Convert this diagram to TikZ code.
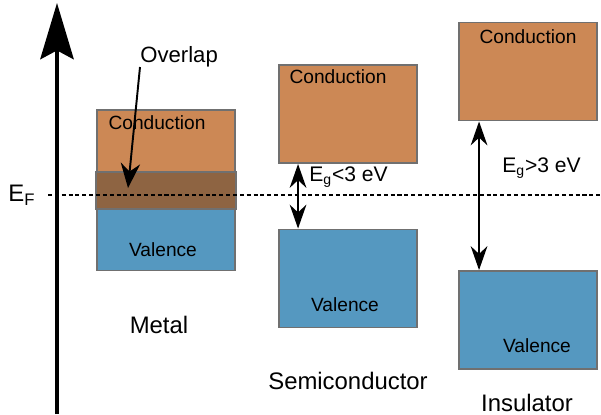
\documentclass[tikz,border=0pt]{standalone}
\usepackage{fontspec}
\setmainfont{Liberation Sans}
\usetikzlibrary{arrows.meta}
\definecolor{condc}{HTML}{CC8855}
\definecolor{valc}{HTML}{5598C0}
\definecolor{ovlc}{HTML}{8E6442}
\definecolor{edgec}{HTML}{707070}
\begin{document}
\begin{tikzpicture}[x=0.02cm, y=-0.02cm,
  band/.style={draw=edgec, line width=1.1pt, minimum width=2.76cm, minimum height=1.96cm, inner sep=0pt},
  boxtext/.style={font=\fontsize{10.9}{12}\selectfont, inner sep=0pt},
  bigtext/.style={font=\fontsize{13.6}{15}\selectfont, inner sep=0pt},
  gap/.style={line width=1.1pt, {Stealth[length=13.6pt,width=9.5pt]}-{Stealth[length=13.6pt,width=9.5pt]}}]
\useasboundingbox (0,0) rectangle (601,414);
% energy axis
\coordinate (axbot) at (57,414);
\coordinate (axtop) at (57,3);
\draw[line width=2pt, -{Stealth[length=32pt,width=19pt,inset=5pt]}] (axbot) -- (axtop);
% metal
\node[band, fill=condc](metC) at (166,159) {};
\node[band, fill=valc](metV) at (166,221.5) {};
\draw[draw=edgec, line width=1.1pt, fill=ovlc] (metV.north west) rectangle (metC.south east);
\node[boxtext](metCt) at (157,123) {Conduction};
\node[boxtext](metVt) at (163,250) {Valence};
\node[bigtext](metal) at (159,325) {Metal};
% semiconductor
\node[band, fill=condc](semC) at (348,114) {};
\node[band, fill=valc](semV) at (348,278.5) {};
\node[boxtext](semCt) at (338,77) {Conduction};
\node[boxtext](semVt) at (345,305) {Valence};
\node[bigtext](semi) at (348,381) {Semiconductor};
\draw[gap] ([xshift=0.4cm]semC.south west) -- ([xshift=0.4cm]semV.north west);
\node[anchor=west, inner sep=0pt, font=\fontsize{12}{14}\selectfont](semEg) at (309,177) {E\textsubscript{g}<3 eV};
% insulator
\node[band, fill=condc](insC) at (528,71.5) {};
\node[band, fill=valc](insV) at (528,320) {};
\node[boxtext](insCt) at (528,37) {Conduction};
\node[boxtext](insVt) at (537,346) {Valence};
\node[bigtext](ins) at (527,403) {Insulator};
\draw[gap] ([xshift=0.42cm]insC.south west) -- ([xshift=0.42cm]insV.north west);
\node[anchor=west, inner sep=0pt, font=\fontsize{12}{14}\selectfont](insEg) at (502,168) {E\textsubscript{g}>3 eV};
% fermi level
\coordinate (efL) at (48,195);
\coordinate (efR) at (601,195);
\draw[line width=0.9pt, dash pattern=on 2.3pt off 1.6pt] (efL) -- (efR);
\node[bigtext](ef) at (22,195) {E\textsubscript{F}};
% overlap
\node[anchor=south west, inner sep=0pt, font=\fontsize{12.6}{14}\selectfont](ovl) at (140,67) {Overlap};
\coordinate (ovlend) at (128,188);
\draw[line width=1.1pt, -{Stealth[length=14pt,width=11pt]}] (ovl.south west) -- (ovlend);
\end{tikzpicture}
\end{document}
